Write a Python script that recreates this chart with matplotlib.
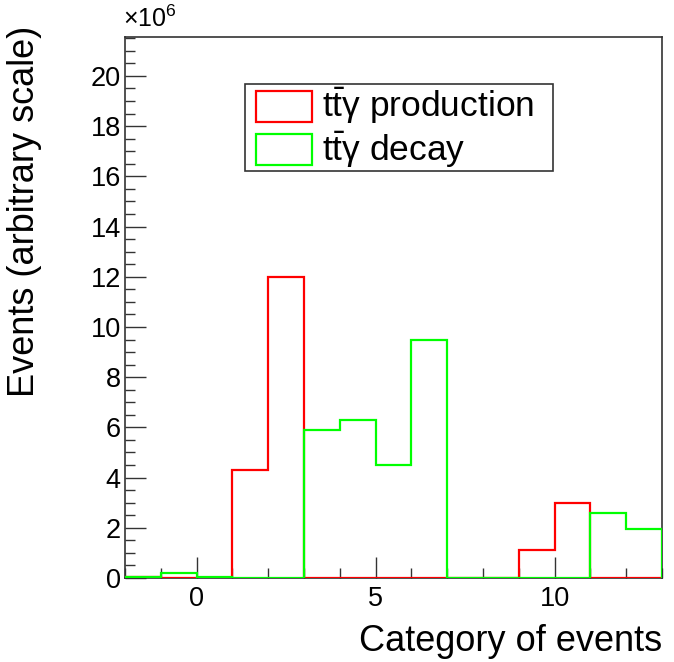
import matplotlib
matplotlib.use("Agg")
import matplotlib.pyplot as plt
import numpy as np
from matplotlib.patches import Rectangle
from matplotlib.ticker import MultipleLocator

plt.rcParams['font.family'] = ['Liberation Sans', 'DejaVu Sans']
plt.rcParams['mathtext.fontset'] = 'custom'
plt.rcParams['mathtext.rm'] = 'Liberation Sans'
plt.rcParams['mathtext.it'] = 'Liberation Sans'

# bin edges: -2 .. 13, width 1
edges = np.arange(-2, 14, 1)
# values in units of 1e6
production = [0.04, 0.0, 0.0, 4.3, 12.0, 0.0, 0.0, 0.0, 0.0, 0.0, 0.0, 1.1, 3.0, 0.0, 0.0]
decay = [0.02, 0.2, 0.04, 0.0, 0.0, 5.9, 6.3, 4.5, 9.5, 0.0, 0.0, 0.0, 0.0, 2.6, 1.95]
labels = [r'$\mathrm{t\bar{t}}\gamma$ production', r'$\mathrm{t\bar{t}}\gamma$ decay']
colors = ['#ff0000', '#00ff00']

fig = plt.figure(figsize=(6.74, 6.62), dpi=100)
ax = fig.add_axes([125/674, 1-578/662, (662-125)/674, (578-37)/662])

ax.stairs(production, edges, color=colors[0], linewidth=1.6, baseline=0, zorder=3)
ax.stairs(decay, edges, color=colors[1], linewidth=1.6, baseline=0, zorder=4)

ax.set_xlim(-2, 13)
ax.set_ylim(0, 21.55)

ax.xaxis.set_major_locator(MultipleLocator(5))
ax.xaxis.set_minor_locator(MultipleLocator(1))
ax.yaxis.set_major_locator(MultipleLocator(2))
ax.yaxis.set_minor_locator(MultipleLocator(0.5))
ax.tick_params(which='both', direction='in', top=False, right=False, labelsize=19.5, width=1, color='#333333')
ax.tick_params(which='major', length=15)
ax.tick_params(which='minor', length=7.5)
ax.tick_params(axis='x', pad=6)
ax.tick_params(axis='y', pad=3)
for s in ax.spines.values():
    s.set_linewidth(1.2)
    s.set_color('#333333')

fig.text(123/674, 1-19/662, r'$\times$10$^{6}$', fontsize=18, ha='left', va='center')

ax.set_xlabel('Category of events', fontsize=26, ha='right', x=1.0)
ax.xaxis.set_label_coords(1.0, -0.085)
ax.set_ylabel('Events (arbitrary scale)', fontsize=26, ha='right', y=1.0)
ax.yaxis.set_label_coords(-0.155, 1.02)

# legend
lx0, ly0, lx1, ly1 = 245/674, 1-171/662, 553/674, 1-84/662
fig.patches.append(Rectangle((lx0, ly0), lx1-lx0, ly1-ly0, transform=fig.transFigure,
                             fill=False, edgecolor='#333333', linewidth=1.2, zorder=10))
for i, (lab, c) in enumerate(zip(labels, colors)):
    yc = 1-(106 + i*43.5)/662
    fig.patches.append(Rectangle((256/674, yc-15.5/662), 56/674, 31/662, transform=fig.transFigure,
                                 fill=False, edgecolor=c, linewidth=1.6, zorder=11))
    fig.text(322/674, yc, lab, fontsize=25.5, ha='left', va='center')

fig.savefig('out.png', dpi=100)
